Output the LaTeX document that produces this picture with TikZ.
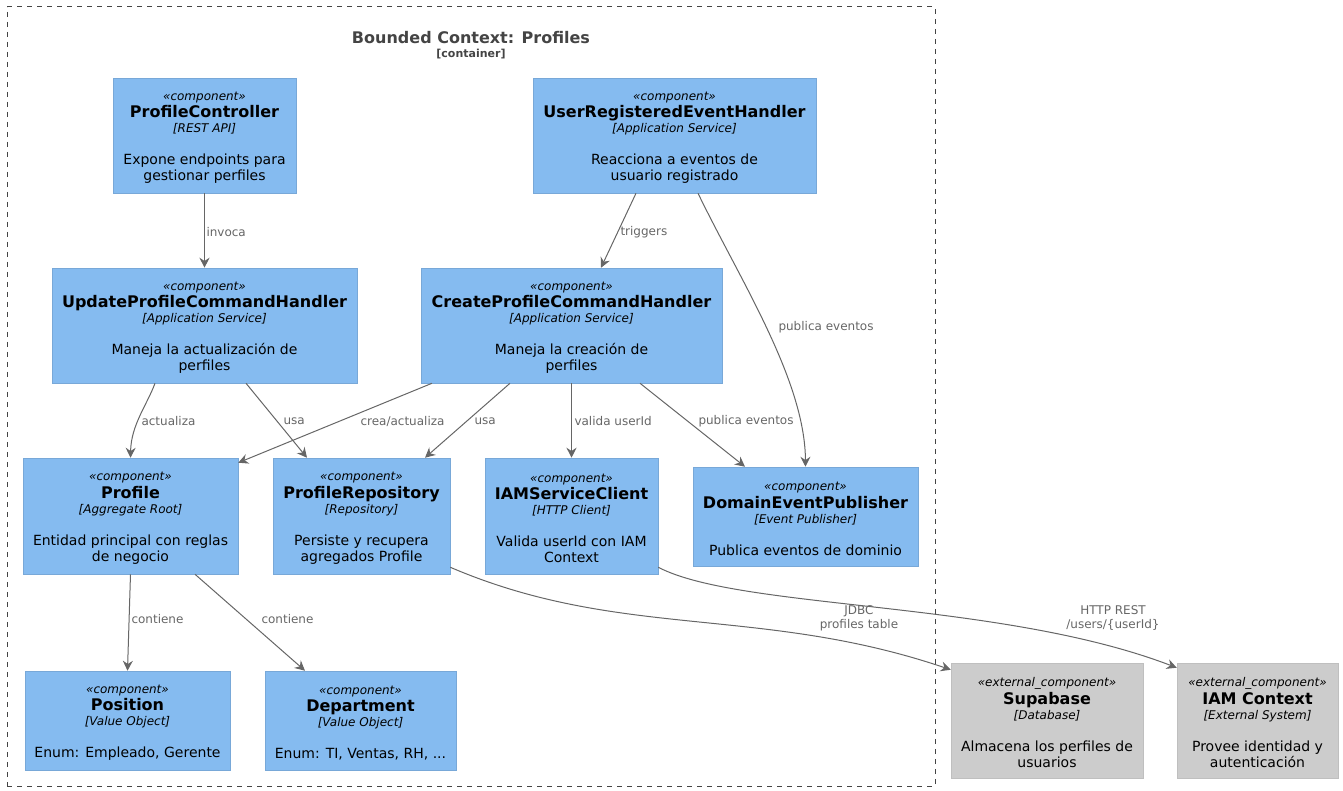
\documentclass[tikz,border=0pt]{standalone}
\usepackage{fontspec}
\setmainfont{DejaVu Sans}
\usepackage{xcolor}
\usetikzlibrary{arrows.meta, calc, positioning}
\definecolor{compblue}{HTML}{85BBF0}
\definecolor{compline}{HTML}{78A8D8}
\definecolor{extgray}{HTML}{CCCCCC}
\definecolor{extline}{HTML}{BFBFBF}
\definecolor{relgray}{HTML}{666666}
\definecolor{titlegray}{HTML}{444444}
\newcommand{\compbody}[4]{{\fontsize{9}{12}\selectfont\itshape\rule{0pt}{9.8pt}«#1»}\\[1.2pt]
  {\fontsize{12}{12}\selectfont\bfseries #2}\\[-0.9pt]
  {\fontsize{9}{12}\selectfont\itshape [#3]}\\[12pt]
  #4}

\begin{document}
\begin{tikzpicture}[x=0.75pt, y=-0.75pt,
    comp/.style={draw=compline, fill=compblue, align=center, inner sep=0pt, font=\fontsize{10.5}{12}\selectfont},
    extcomp/.style={comp, draw=extline, fill=extgray},
    boxsize/.style 2 args={minimum width=#1*0.75pt, minimum height=#2*0.75pt},
    rel/.style={draw=relgray, line width=0.75pt, -{Stealth[length=7.5pt, width=7.5pt, inset=2.5pt]}},
    lbl/.style={text=relgray, font=\fontsize{9}{10.5}\selectfont, inner sep=0pt, align=center}]
          \useasboundingbox (0,0) rectangle (1343,791);
          \node[draw=titlegray, line width=0.75pt, dash pattern=on 3.75pt off 3.75pt, boxsize={928}{779}] (bc) at (471,396.5) {};
          \node[text=titlegray, font=\fontsize{12}{14}\selectfont\bfseries] (bctitle) at (471,38) {Bounded Context: Profiles};
          \node[text=titlegray, font=\fontsize{8.25}{10}\selectfont\bfseries] (bctype) at (471,54) {[container]};
          % components
          \node[comp, boxsize={183}{115}] (ctrl) at (204.5,135.5) {\compbody{component}{ProfileController}{REST API}{Expone endpoints para\\gestionar perfiles}};
          \node[comp, boxsize={283}{115}] (ureh) at (674.5,135.5) {\compbody{component}{UserRegisteredEventHandler}{Application Service}{Reacciona a eventos de\\usuario registrado}};
          \node[comp, boxsize={305}{115}] (upch) at (204.5,325.5) {\compbody{component}{UpdateProfileCommandHandler}{Application Service}{Maneja la actualización de\\perfiles}};
          \node[comp, boxsize={301}{115}] (cpch) at (571.5,325.5) {\compbody{component}{CreateProfileCommandHandler}{Application Service}{Maneja la creación de\\perfiles}};
          \node[comp, boxsize={215}{116}] (prof) at (130.5,516) {\compbody{component}{Profile}{Aggregate Root}{Entidad principal con reglas\\de negocio}};
          \node[comp, boxsize={177}{116}] (repo) at (361.5,516) {\compbody{component}{ProfileRepository}{Repository}{Persiste y recupera\\agregados Profile}};
          \node[comp, boxsize={173}{116}] (iam) at (571.5,516) {\compbody{component}{IAMServiceClient}{HTTP Client}{Valida userId con IAM\\Context}};
          \node[comp, boxsize={225}{99}] (dep) at (805.5,516.5) {\compbody{component}{DomainEventPublisher}{Event Publisher}{Publica eventos de dominio}};
          \node[comp, boxsize={205}{99}] (pos) at (127.5,720.5) {\compbody{component}{Position}{Value Object}{Enum: Empleado, Gerente}};
          \node[comp, boxsize={191}{99}] (dept) at (360.5,720.5) {\compbody{component}{Department}{Value Object}{Enum: TI, Ventas, RH, ...}};
          \node[extcomp, boxsize={192}{115}] (supa) at (1047,720.5) {\compbody{external\_component}{Supabase}{Database}{Almacena los perfiles de\\usuarios}};
          \node[extcomp, boxsize={161}{115}] (iamx) at (1257.5,720.5) {\compbody{external\_component}{IAM Context}{External System}{Provee identidad y\\autenticación}};
          % relations
          \draw[rel] (ctrl.south) -- (upch.north) node[lbl, anchor=west] at (206,232) {invoca};
          \draw[rel] ($(ureh.south)+(-38.5,0)$) -- ($(cpch.north)+(29.5,0)$) node[lbl, anchor=west] at (620,232) {triggers};
          \draw[rel] ($(ureh.south)+(23.5,0)$) .. controls (740,280) and (805,380) .. (dep.north) node[lbl, anchor=west] at (778,327) {publica eventos};
          \draw[rel] ($(upch.south)+(-49.5,0)$) .. controls (147,405) and (131,425) .. (prof.north) node[lbl, anchor=west] at (141,421) {actualiza};
          \draw[rel] ($(upch.south)+(41.5,0)$) -- ($(repo.north)+(-54.5,0)$) node[lbl, anchor=west] at (283,421) {usa};
          \draw[rel] ($(cpch.south)+(-139.5,0)$) -- ($(prof.north east)+(0,5)$) node[lbl, anchor=east] at (445,421) {crea/actualiza};
          \draw[rel] ($(cpch.south)+(-61.5,0)$) -- ($(repo.north)+(63.5,0)$) node[lbl, anchor=west] at (474,421) {usa};
          \draw[rel] (cpch.south) -- (iam.north) node[lbl, anchor=west] at (574,421) {valida userId};
          \draw[rel] ($(cpch.south)+(68.5,0)$) -- ($(dep.north)+(-60.5,0)$) node[lbl, anchor=west] at (698,421) {publica eventos};
          \draw[rel] (prof.south) -- (pos.north) node[lbl, anchor=west] at (131,619) {contiene};
          \draw[rel] ($(prof.south)+(64.5,0)$) -- ($(dept.north)+(-55.5,0)$) node[lbl, anchor=west] at (261,619) {contiene};
          \draw[rel] ($(repo.south east)+(0,-7)$) .. controls (620,640) and (760,605) .. ($(supa.north west)+(0,7)$) node[lbl] at (859,618) {JDBC\\profiles table};
          \draw[rel] ($(iam.south east)+(0,-7)$) .. controls (740,610) and (1000,600) .. ($(iamx.north west)+(0,5)$) node[lbl] at (1113,618) {HTTP REST\\/users/\{userId\}};
        \end{tikzpicture}
\end{document}
